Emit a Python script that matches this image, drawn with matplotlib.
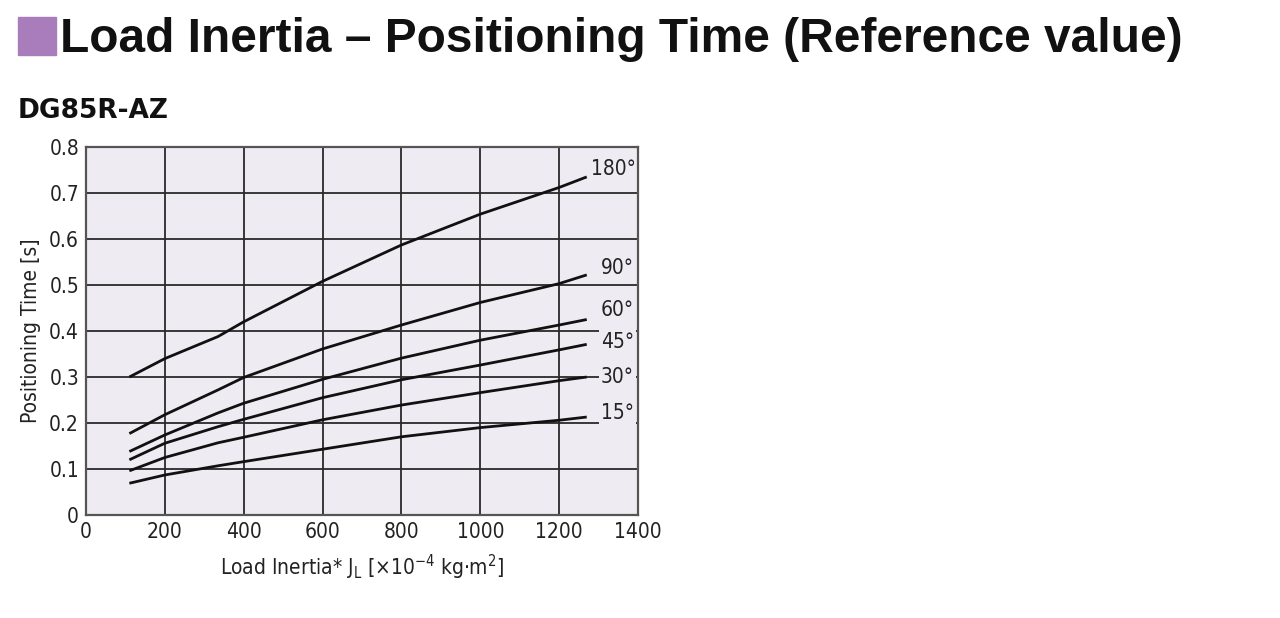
import matplotlib.pyplot as plt
from matplotlib.patches import Rectangle

# Load inertia [x10^-4 kg m^2]
inertia = [110, 200, 335, 400, 600, 800, 1000, 1200, 1270]

# Positioning time [s] for each rotation angle
t_180 = [0.300, 0.340, 0.388, 0.420, 0.508, 0.587, 0.654, 0.712, 0.735]
t_90 = [0.177, 0.218, 0.272, 0.299, 0.361, 0.413, 0.462, 0.503, 0.522]
t_60 = [0.138, 0.174, 0.222, 0.243, 0.295, 0.341, 0.380, 0.413, 0.425]
t_45 = [0.120, 0.156, 0.192, 0.208, 0.255, 0.294, 0.326, 0.359, 0.371]
t_30 = [0.096, 0.125, 0.157, 0.169, 0.207, 0.239, 0.266, 0.292, 0.300]
t_15 = [0.069, 0.087, 0.107, 0.116, 0.143, 0.170, 0.190, 0.206, 0.213]

angle_labels = ["180°", "90°", "60°", "45°", "30°", "15°"]
series = [t_180, t_90, t_60, t_45, t_30, t_15]
label_offsets = [(3, 6), (10, 5), (10, 7), (10, 2), (10, 0), (10, 3)]  # points
label_boxed = [False, False, True, True, True, True]

x_ticks = [0, 200, 400, 600, 800, 1000, 1200, 1400]
y_ticks = [0, 0.1, 0.2, 0.3, 0.4, 0.5, 0.6, 0.7, 0.8]
y_tick_labels = ["0", "0.1", "0.2", "0.3", "0.4", "0.5", "0.6", "0.7", "0.8"]

narrow = dict(family="DejaVu Sans", stretch="condensed")
bg = "#efebf2"

fig = plt.figure(figsize=(12.8, 6.18), dpi=100)

# title with purple square
fig.patches.append(Rectangle((18 / 1280, 1 - 55 / 618), 38 / 1280, 38 / 618,
                             transform=fig.transFigure, color="#a97dbb"))
fig.text(60 / 1280, 1 - 39 / 618, "Load Inertia – Positioning Time (Reference value)",
         fontsize=34.5, fontweight="bold", family=["Liberation Sans", "DejaVu Sans"],
         va="center", ha="left", color="#111111")
fig.text(18 / 1280, 1 - 111 / 618, "DG85R-AZ", fontsize=19, fontweight="heavy",
         family=["DejaVu Sans"], va="center", ha="left", color="#111111")

ax = fig.add_axes([86 / 1280, 103 / 618, 552 / 1280, 368 / 618])
ax.set_facecolor(bg)

for ys, lab, off, boxed in zip(series, angle_labels, label_offsets, label_boxed):
    ax.plot(inertia, ys, color="#111111", lw=2.0, solid_capstyle="butt", zorder=3)
    t = ax.annotate(lab, xy=(inertia[-1], ys[-1]), xytext=off, textcoords="offset points",
                    fontsize=15, va="center", ha="left", color="#222222",
                    annotation_clip=False, zorder=4, **narrow)
    if boxed:
        t.set_bbox(dict(boxstyle="square,pad=0.1", fc=bg, ec="none"))

ax.set_xlim(0, 1400)
ax.set_ylim(0, 0.8)
ax.set_xticks(x_ticks)
ax.set_yticks(y_ticks)
ax.set_yticklabels(y_tick_labels)
ax.tick_params(length=0, labelsize=15, colors="#222222", pad=5)
for lbl in ax.get_xticklabels() + ax.get_yticklabels():
    lbl.set_family(narrow["family"])
    lbl.set_stretch(narrow["stretch"])
ax.grid(True, color="#2a2a2a", lw=1.3, zorder=1)
ax.set_axisbelow(True)
for sp in ax.spines.values():
    sp.set_color("#555555")
    sp.set_linewidth(1.6)

ax.set_ylabel("Positioning Time [s]", fontsize=15, color="#222222", labelpad=6, **narrow)
ax.set_xlabel(r"Load Inertia* J$_{\mathregular{L}}$ [×10$^{\mathregular{-4}}$ kg·m$^{\mathregular{2}}$]",
              fontsize=15, color="#222222", labelpad=8, **narrow)

fig.savefig("out.png", dpi=100, facecolor="white")
